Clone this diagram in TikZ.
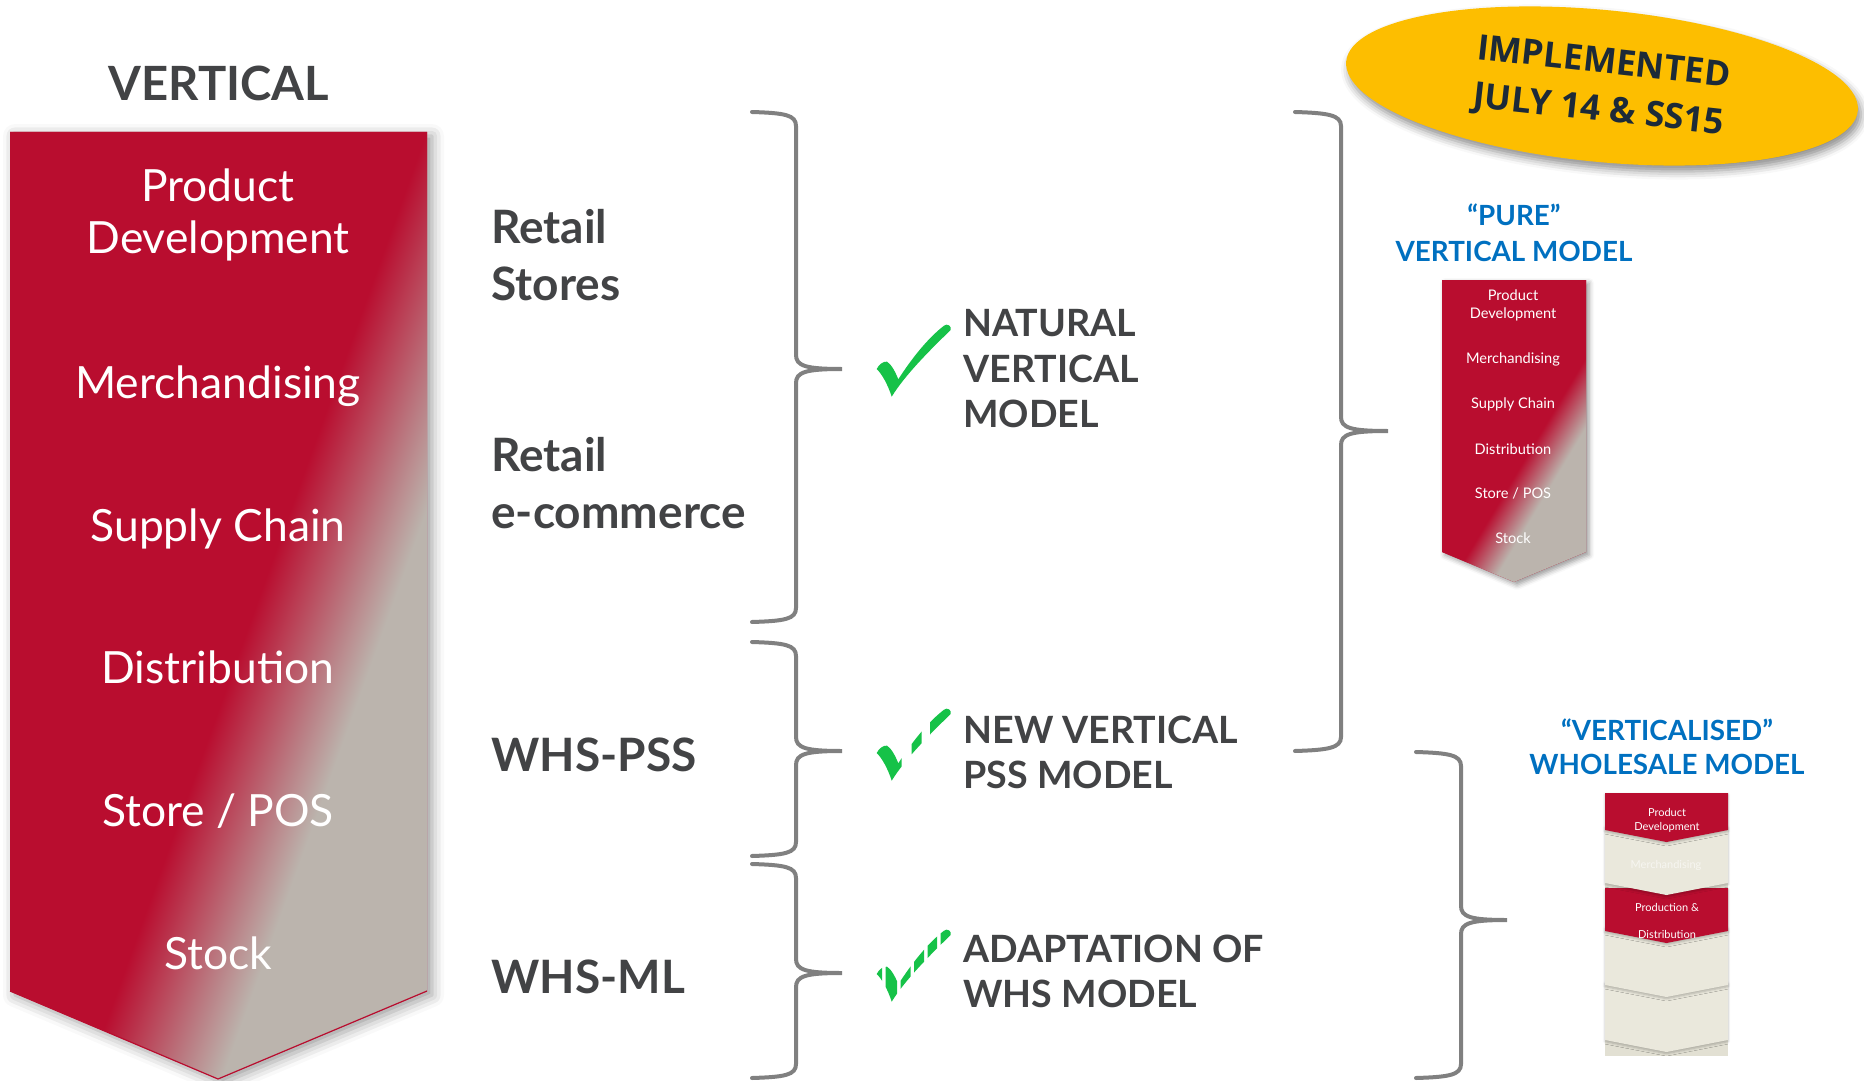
\documentclass[tikz,border=0pt]{standalone}
\usepackage{fontspec}
\setmainfont{Lato}
\newfontfamily\opensans{Open Sans}
\usetikzlibrary{shadows.blur}

\definecolor{vred}{RGB}{185,13,47}
\definecolor{vgray}{RGB}{187,180,173}
\definecolor{txtdark}{RGB}{66,67,69}
\definecolor{chkgreen}{RGB}{22,194,72}
\definecolor{bracegray}{RGB}{128,128,128}
\definecolor{mblue}{RGB}{0,112,192}
\definecolor{sunyellow}{RGB}{253,190,0}
\definecolor{navy}{RGB}{28,42,56}
\definecolor{cream}{RGB}{234,232,220}
\definecolor{creambg}{RGB}{226,224,211}

% red-to-grey fades used inside the chevrons
\pgfdeclarehorizontalshading{bigfade}{700bp}{color(0bp)=(vred); color(318bp)=(vred); color(382bp)=(vgray); color(700bp)=(vgray)}
\pgfdeclarehorizontalshading{smallfade}{260bp}{color(0bp)=(vred); color(121bp)=(vred); color(139bp)=(vgray); color(260bp)=(vgray)}

\tikzset{
  chevtext/.style={text=white, inner sep=0, font=\fontsize{22.2}{26}\selectfont},
  midlabel/.style={text=txtdark, inner sep=0, anchor=base west, font=\bfseries\fontsize{23}{28.5}\selectfont},
  modellabel/.style={text=txtdark, inner sep=0, anchor=base west, font=\bfseries\fontsize{18.8}{22.75}\selectfont},
  bluelabel/.style={text=mblue, inner sep=0, anchor=base, font=\bfseries\fontsize{13.9}{17}\selectfont},
  minitext/.style={text=white, inner sep=0, anchor=base, font=\fontsize{7.3}{8.5}\selectfont},
  tinytext/.style={text=white, inner sep=0, anchor=base, font=\fontsize{5.5}{6.5}\selectfont},
  bracepath/.style={draw=bracegray, line width=2pt, line cap=round},
  bandshadow/.style={blur shadow={shadow xshift=0pt, shadow yshift=-0.8pt, shadow blur radius=1.2pt, shadow opacity=25}},
  tick/.pic={
    \fill[chkgreen] (876.7,369) .. controls (879,364) and (884,361) .. (887,361.7)
      .. controls (891,364) and (895,371) .. (898.3,379.3)
      .. controls (912,358) and (928,338) .. (944,325.7)
      .. controls (947,323) and (952,326) .. (950.7,330)
      .. controls (930,350) and (905,375) .. (891.7,396.7)
      .. controls (888,385) and (882,374) .. (876.7,369) -- cycle;
  }
}

% curly bracket: start x, stem x, tip x, top y, tip y, bottom y
\newcommand{\drawbracket}[6]{%
  \draw[bracepath] (#1,#4) .. controls ({#1+33},{#4+1}) and (#2,{#4+3}) .. (#2,{#4+14})
    -- (#2,{#5-14}) .. controls (#2,{#5-3}) and ({#2+10},#5) .. (#3,#5)
    .. controls ({#2+10},#5) and (#2,{#5+3}) .. (#2,{#5+14})
    -- (#2,{#6-14}) .. controls (#2,{#6-3}) and ({#1+33},{#6-1}) .. (#1,#6);}

\begin{document}
\begin{tikzpicture}[x=0.5pt,y=-0.5pt]
\useasboundingbox (0,0) rectangle (1864,1081);

% ---------- large value-chain chevron ----------
\node[text=txtdark, font=\bfseries\fontsize{23.6}{28}\selectfont, anchor=base, inner sep=0] (title) at (219,101) {VERTICAL};

\path[fill=vred, blur shadow={shadow xshift=2.5pt, shadow yshift=-2pt, shadow blur radius=6pt, shadow opacity=40}]
  (10,132) -- (427,132) -- (427,991) -- (218,1079) -- (10,991) -- cycle;
\begin{scope}
  \clip (10,132) -- (427,132) -- (427,991) -- (218,1079) -- (10,991) -- cycle;
  \node[inner sep=0, rotate=-19.8] (bigfill) at (326,600) {\pgfuseshading{bigfade}};
\end{scope}
\draw[vred, line width=0.6pt] (427,991) -- (218,1079) -- (10,991);

\node[chevtext, align=center] (pd) at (218,215) {Product\\Development};
\node[chevtext, anchor=base] (merch) at (218,398) {Merchandising};
\node[chevtext, anchor=base] (supply) at (218,541) {Supply Chain};
\node[chevtext, anchor=base] (distr) at (218,683) {Distribution};
\node[chevtext, anchor=base] (store) at (218,826) {Store / POS};
\node[chevtext, anchor=base] (stock) at (218,969) {Stock};

% ---------- channels ----------
\node[midlabel] (rs1) at (491,243) {Retail};
\node[midlabel] (rs2) at (491,300) {Stores};
\node[midlabel] (re1) at (491,471) {Retail};
\node[midlabel] (re2) at (491,528) {e-commerce};
\node[midlabel] (whspss) at (491,771) {WHS-PSS};
\node[midlabel] (whsml) at (491,993) {WHS-ML};

% ---------- brackets ----------
\drawbracket{752}{796}{842}{112}{369}{622}
\drawbracket{752}{796}{842}{642}{751}{856}
\drawbracket{752}{796}{842}{864}{973}{1078}
\drawbracket{1295}{1341}{1388}{112}{431}{751}
\drawbracket{1416}{1461}{1507}{752}{920}{1078}

% ---------- ticks ----------
\pic at (0,0) {tick};
\begin{scope}[shift={(0,384)}]
  \clip (860,300) rectangle (901.7,410) (911.7,300) rectangle (921.7,410) (930,300) rectangle (960,410);
  \pic at (0,0) {tick};
\end{scope}
\begin{scope}[shift={(0,605)}]
  \clip (860,300) rectangle (882,410) (885.5,300) rectangle (897,410) (900.5,300) rectangle (910.5,410)
        (914,300) rectangle (924,410) (927.5,300) rectangle (937,410) (940.5,300) rectangle (960,410);
  \pic at (0,0) {tick};
\end{scope}

% ---------- model names ----------
\node[modellabel] (nat1) at (963,336) {NATURAL};
\node[modellabel] (nat2) at (963,382) {VERTICAL};
\node[modellabel] (nat3) at (963,427) {MODEL};
\node[modellabel] (pss1) at (963,743) {NEW VERTICAL};
\node[modellabel] (pss2) at (963,788) {PSS MODEL};
\node[modellabel] (whs1) at (963,962) {ADAPTATION OF};
\node[modellabel] (whs2) at (963,1007) {WHS MODEL};

% ---------- badge ----------
\path[fill=sunyellow, rotate around={-5.5:(1602,86)},
      blur shadow={shadow xshift=1.5pt, shadow yshift=-3pt, shadow blur radius=4pt, shadow opacity=45}]
  (1602,86) ellipse [x radius=257, y radius=76];
\node[rotate=-6.3, text=navy, font=\opensans\bfseries\fontsize{17.6}{24}\selectfont, align=center, inner sep=0] (impl) at (1601,88) {IMPLEMENTED\\JULY 14 \& SS15};

% ---------- pure vertical model ----------
\node[bluelabel] (pure1) at (1514,226) {“PURE”};
\node[bluelabel] (pure2) at (1514,261) {VERTICAL MODEL};
\path[fill=vred, blur shadow={shadow xshift=1.5pt, shadow yshift=-1.5pt, shadow blur radius=2.5pt, shadow opacity=40}]
  (1442,280) -- (1586,280) -- (1586,552) -- (1514,582) -- (1442,552) -- cycle;
\begin{scope}
  \clip (1442,280) -- (1586,280) -- (1586,552) -- (1514,582) -- (1442,552) -- cycle;
  \node[inner sep=0, rotate=-31] (smallfill) at (1527,490) {\pgfuseshading{smallfade}};
\end{scope}
\node[minitext] (m1a) at (1513,300) {Product};
\node[minitext] (m1b) at (1513,318) {Development};
\node[minitext] (m2) at (1513,363) {Merchandising};
\node[minitext] (m3) at (1513,408) {Supply Chain};
\node[minitext] (m4) at (1513,454) {Distribution};
\node[minitext] (m5) at (1513,498) {Store / POS};
\node[minitext] (m6) at (1513,543) {Stock};

% ---------- verticalised wholesale model ----------
\node[bluelabel] (vw1) at (1667,740) {“VERTICALISED”};
\node[bluelabel] (vw2) at (1667,774) {WHOLESALE MODEL};
\fill[creambg] (1605,793) rectangle (1728,1056);
\path[fill=cream, bandshadow] (1605,982) -- (1728,982) -- (1728,1040) -- (1666.5,1052) -- (1605,1040) -- cycle;
\path[fill=cream, bandshadow] (1605,927) -- (1728,927) -- (1728,985) -- (1666.5,997) -- (1605,985) -- cycle;
\path[fill=vred, bandshadow] (1605,888) -- (1728,888) -- (1728,931) -- (1666.5,943) -- (1605,931) -- cycle;
\path[fill=cream, bandshadow] (1605,826) -- (1728,826) -- (1728,883) -- (1666.5,895) -- (1605,883) -- cycle;
\path[fill=vred, bandshadow] (1605,793) -- (1728,793) -- (1728,830) -- (1666.5,842) -- (1605,830) -- cycle;
\node[tinytext] (w1a) at (1667,816.5) {Product};
\node[tinytext] (w1b) at (1667,830) {Development};
\node[tinytext, opacity=0.6] (w2) at (1666,868.5) {Merchandising};
\node[tinytext] (w3a) at (1667,911) {Production \&};
\node[tinytext] (w3b) at (1667,938.5) {Distribution};
\end{tikzpicture}
\end{document}
